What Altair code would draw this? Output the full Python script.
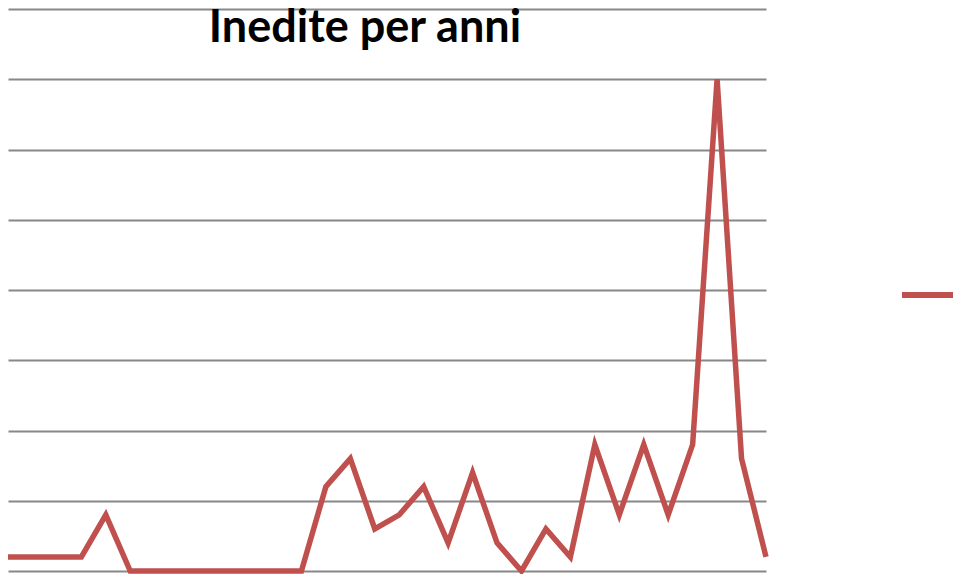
import altair as alt
import pandas as pd

idx = list(range(32))
values = [1, 1, 1, 1, 4, 0, 0, 0, 0, 0, 0, 0, 0, 6, 8, 3, 4, 6, 2, 7, 2, 0, 3, 1, 9, 4, 9, 4, 9, 35, 8, 1]
series = ["Inedite"] * len(idx)
title_text = "Inedite per anni"

df = pd.DataFrame({"i": idx, "v": values, "s": series})

line = alt.Chart(df).mark_line(strokeWidth=5.5, strokeCap="butt", strokeJoin="miter").encode(
    x=alt.X("i:Q", scale=alt.Scale(domain=[0, 31], nice=False, zero=False), axis=None),
    y=alt.Y("v:Q", scale=alt.Scale(domain=[0, 40], nice=False),
            axis=alt.Axis(values=list(range(0, 45, 5)), labels=False, ticks=False, domain=False,
                          title=None, grid=True, gridColor="#878787", gridWidth=2)),
    color=alt.Color("s:N", scale=alt.Scale(range=["#C0504D"]),
                    legend=alt.Legend(title=None, orient="none", legendX=891, legendY=254,
                                      symbolType="stroke", symbolSize=3364, symbolStrokeWidth=6,
                                      labelFontSize=20, labelOffset=10, padding=0)),
)

title = alt.Chart(pd.DataFrame({"t": [title_text]})).mark_text(
    font="Lato", fontWeight="bold", fontSize=45, color="#000000", baseline="alphabetic", align="center"
).encode(x=alt.value(357), y=alt.value(33), text="t:N")

chart = alt.layer(line, title).properties(
    width=758, height=562,
    autosize=alt.AutoSizeParams(type="none"),
    padding={"left": 0, "top": 1, "right": 187, "bottom": 3},
).configure_view(stroke=None)

chart.save("out.html", embed_options={"renderer": "svg", "actions": False})
